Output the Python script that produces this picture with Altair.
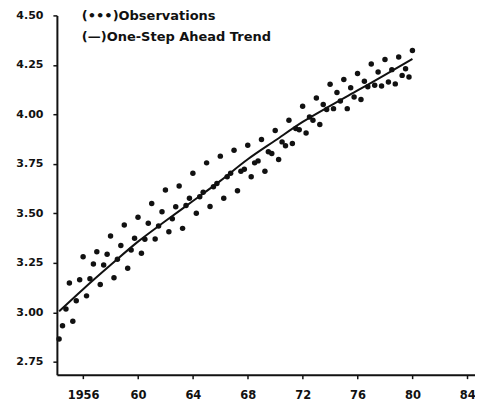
import altair as alt
import pandas as pd

# ---- data ----
start_year = 1954.25   # first quarterly observation
quarter = 0.25
observations = [
    2.865, 2.932, 3.017, 3.148, 2.955, 3.058, 3.164, 3.281,
    3.083, 3.169, 3.244, 3.306, 3.140, 3.239, 3.293, 3.385,
    3.175, 3.268, 3.337, 3.441, 3.223, 3.315, 3.374, 3.480,
    3.298, 3.369, 3.450, 3.550, 3.370, 3.436, 3.508, 3.618,
    3.407, 3.473, 3.533, 3.638, 3.424, 3.540, 3.576, 3.703,
    3.500, 3.584, 3.606, 3.755, 3.535, 3.634, 3.651, 3.789,
    3.576, 3.685, 3.702, 3.819, 3.614, 3.713, 3.723, 3.844,
    3.685, 3.755, 3.765, 3.873, 3.713, 3.811, 3.802, 3.918,
    3.772, 3.861, 3.841, 3.970, 3.853, 3.929, 3.922, 4.041,
    3.906, 3.987, 3.970, 4.083, 3.949, 4.050, 4.025, 4.152,
    4.029, 4.110, 4.068, 4.176, 4.029, 4.135, 4.088, 4.206,
    4.075, 4.167, 4.140, 4.255, 4.147, 4.214, 4.143, 4.277,
    4.164, 4.226, 4.154, 4.290, 4.197, 4.230, 4.189, 4.323,
]
trend_years = [1954.25, 1956, 1958, 1960, 1962, 1964, 1966, 1968,
               1970, 1972, 1974, 1976, 1978, 1980]
trend_values = [3.005, 3.117, 3.239, 3.357, 3.461, 3.562, 3.664, 3.773,
                3.868, 3.962, 4.043, 4.121, 4.199, 4.280]
y_ticks = [2.75, 3.00, 3.25, 3.50, 3.75, 4.00, 4.25, 4.50]
x_ticks = [1956, 1960, 1964, 1968, 1972, 1976, 1980, 1984]
legend_labels = ["(\u2022\u2022\u2022)Observations", "(\u2014)One-Step Ahead Trend"]

obs_df = pd.DataFrame({
    "t": [start_year + quarter * i for i in range(len(observations))],
    "v": observations,
})
trend_df = pd.DataFrame({"t": trend_years, "v": trend_values})

FONT = "DejaVu Sans"
INK = "#111111"

x_scale = alt.Scale(domain=[1954.09, 1984.56], nice=False, zero=False)
y_scale = alt.Scale(domain=[2.685, 4.50], nice=False, zero=False)

x_axis = alt.Axis(
    values=x_ticks, format="d",
    labelExpr="datum.value == 1956 ? datum.label : substring(datum.label, 2)",
    title=None, grid=False, tickSize=4, labelPadding=11, labelFontSize=11.5,
)
y_axis = alt.Axis(values=y_ticks, format=".2f", title=None, grid=False,
                  tickSize=4, labelPadding=10, labelFontSize=11)

points = alt.Chart(obs_df).mark_circle(size=30, color=INK, opacity=1).encode(
    x=alt.X("t:Q", scale=x_scale, axis=x_axis),
    y=alt.Y("v:Q", scale=y_scale, axis=y_axis),
)

trend = alt.Chart(trend_df).mark_line(color=INK, strokeWidth=2,
                                      interpolate="monotone").encode(
    x=alt.X("t:Q", scale=x_scale),
    y=alt.Y("v:Q", scale=y_scale),
)

leg1 = alt.Chart(alt.Data(values=[{}])).mark_text(
    text=legend_labels[0], align="left", baseline="middle",
    font=FONT, fontWeight="bold", fontSize=13, color=INK,
).encode(x=alt.value(25), y=alt.value(1))

leg2 = alt.Chart(alt.Data(values=[{}])).mark_text(
    text=legend_labels[1], align="left", baseline="middle",
    font=FONT, fontWeight="bold", fontSize=13, color=INK,
).encode(x=alt.value(25), y=alt.value(22))

chart = alt.layer(points, trend, leg1, leg2).properties(
    width=419, height=360,
    padding={"left": 49, "top": 7, "right": 0, "bottom": 30},
    autosize=alt.AutoSizeParams(type="none"),
    background="white",
).configure_view(stroke=None).configure_axis(
    domainColor=INK, domainWidth=2, tickColor=INK, tickWidth=1.5,
    labelFont=FONT, labelFontWeight="bold", labelColor=INK,
)

chart.save("out.html", embed_options={"renderer": "svg", "actions": False})
